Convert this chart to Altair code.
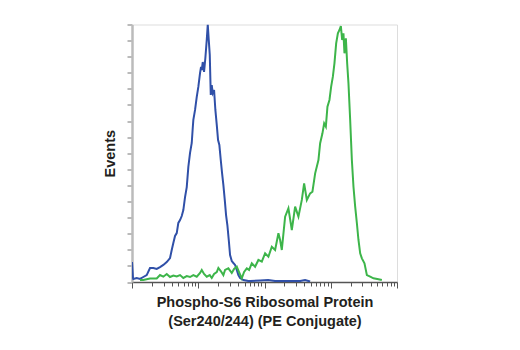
import altair as alt
import pandas as pd

# Fluorescence intensity (log axis) and event counts
blue_x = [1.0, 1.035, 1.046, 1.178, 1.321, 1.481, 1.667, 1.870, 2.098, 2.361, 2.648, 2.971,
          3.344, 3.750, 3.978, 4.206, 4.462, 4.734, 5.006, 5.311, 5.634, 5.955, 6.318, 6.705,
          7.088, 7.518, 7.975, 8.258, 8.433, 8.948, 9.491, 10.03, 10.65, 11.02, 11.30, 11.69,
          12.24, 12.80, 13.44, 13.92, 14.41, 14.92, 15.45, 15.99, 16.56, 17.33, 18.13, 19.03,
          19.91, 20.83, 21.87, 22.88, 23.94, 25.13, 26.29, 27.51, 28.88, 30.22, 32.06, 33.90,
          35.97, 38.16, 40.34, 42.80, 48.02, 57.14, 60.6, 85.8, 113.4, 144.6, 243.6, 345.0,
          410.0, 488.6]
blue_y = [12.4, 2.5, 1.9, 2.5, 1.9, 3.1, 4.3, 8.7, 8.7, 8.1, 9.3, 10.6,
          12.4, 14.9, 19.9, 24.2, 28.6, 30.4, 36.7, 38.5, 41.0, 44.7, 52.8, 59.0,
          71.5, 80.2, 86.4, 95.7, 100.7, 106.9, 115.0, 121.2, 129.9, 133.6, 131.7, 136.7,
          130.5, 139.2, 150.4, 160.0, 150.4, 141.1, 116.2, 122.4, 117.4, 119.3, 106.9, 97.6,
          88.2, 85.1, 75.8, 67.7, 60.3, 51.0, 41.6, 35.4, 26.1, 16.8, 13.0, 11.8,
          10.6, 7.5, 4.3, 2.5, 1.2, 0.6, 0.6, 0.9, 1.2, 0.6, 0.6, 0.6,
          1.2, 0.3]

green_x = [1.321, 1.481, 1.870, 2.361, 2.648, 2.971, 3.344, 3.750, 4.206, 4.734, 5.311, 5.955,
           6.705, 7.518, 8.433, 9.491, 10.65, 11.30, 12.24, 13.44, 14.92, 15.99, 17.33, 19.03,
           20.12, 21.87, 23.94, 25.40, 28.49, 32.06, 34.73, 38.16, 41.33, 45.41, 49.19, 54.03,
           58.54, 64.31, 72.11, 80.89, 91.05, 102.1, 114.5, 128.9, 144.6, 162.2, 172.1, 182.5,
           204.8, 229.6, 258.5, 289.9, 325.2, 365.9, 396.4, 435.5, 488.6, 529.1, 581.5, 652.0,
           691.7, 749.3, 795.0, 843.3, 891.7, 956.0, 1014, 1076, 1137, 1207, 1281, 1353,
           1421, 1487, 1555, 1610, 1691, 1769, 1851, 1964, 2083, 2203, 2337, 2480,
           2621, 2781, 2951, 3229, 3511, 3937, 4416, 5254, 5913]
green_y = [1.2, 1.2, 2.2, 2.2, 4.3, 3.3, 5.0, 3.1, 4.0, 3.4, 4.3, 2.5,
           3.7, 3.1, 4.3, 3.3, 5.6, 7.5, 5.0, 3.3, 4.3, 2.5, 5.0, 6.2,
           8.7, 6.8, 4.3, 7.5, 8.5, 5.6, 8.1, 9.5, 6.2, 2.3, 6.2, 8.5,
           7.5, 11.6, 9.5, 13.7, 12.6, 17.8, 15.7, 21.9, 19.9, 30.3, 26.1, 19.9,
           40.6, 45.8, 32.3, 46.8, 40.6, 51.0, 61.3, 51.0, 55.1, 56.1, 67.5, 75.8,
           86.2, 92.4, 98.6, 96.5, 108.9, 113.1, 121.4, 127.6, 135.9, 148.3, 154.5, 156.6,
           159.0, 150.4, 154.5, 142.1, 151.4, 135.9, 123.5, 100.7, 75.8, 59.2, 46.8, 36.5,
           26.1, 17.8, 14.7, 11.6, 4.3, 3.3, 2.3, 1.7, 1.2]

series_names = ["Control", "Treated"]
series_colors = ["#3050a8", "#3db54a"]

x_ticks = [m * 10 ** k for k in range(4) for m in range(1, 10)] + [10000]
y_ticks = list(range(0, 161, 10))

df = pd.concat([
    pd.DataFrame({"x": blue_x, "y": blue_y, "s": series_names[0]}),
    pd.DataFrame({"x": green_x, "y": green_y, "s": series_names[1]}),
])

font = "'Liberation Sans Narrow', 'Arial Narrow', 'Liberation Sans', sans-serif"

chart = alt.Chart(df).mark_line(strokeWidth=2, clip=True).encode(
    x=alt.X("x:Q",
            scale=alt.Scale(type="log", domain=[1, 10000], nice=False),
            axis=alt.Axis(
                values=x_ticks, labels=False, grid=False,
                title=["Phospho-S6 Ribosomal Protein", "(Ser240/244) (PE Conjugate)"],
                titleFont=font, titleFontSize=14.5, titleFontWeight="bold",
                titleColor="#231f20", titleLineHeight=19, titlePadding=7,
                domainColor="#555555", domainWidth=1.5,
                tickColor="#555555", tickWidth=1,
                tickSize={"condition": {"test": "indexof([1,10,100,1000,10000], datum.value) >= 0", "value": 6}, "value": 4},
            )),
    y=alt.Y("y:Q",
            scale=alt.Scale(domain=[0, 160], nice=False),
            axis=alt.Axis(
                values=y_ticks, labels=False, grid=False,
                title="Events",
                titleFont=font, titleFontSize=14.5, titleFontWeight="bold",
                titleColor="#231f20", titlePadding=9,
                domainColor="#bbbbbb", domainWidth=2.5,
                tickColor="#777777", tickWidth=1, tickSize=5,
            )),
    color=alt.Color("s:N", scale=alt.Scale(domain=series_names, range=series_colors), legend=None),
    detail="s:N",
    order=alt.Order("x:Q"),
).properties(
    width=265,
    height=257.5,
    padding={"left": 132, "top": 24.5, "right": 123, "bottom": 68},
    autosize=alt.AutoSizeParams(type="none"),
).configure_view(
    stroke="#555555", strokeWidth=1.5
).configure(background="white")

chart.save("out.html", embed_options={"renderer": "svg", "actions": False})
